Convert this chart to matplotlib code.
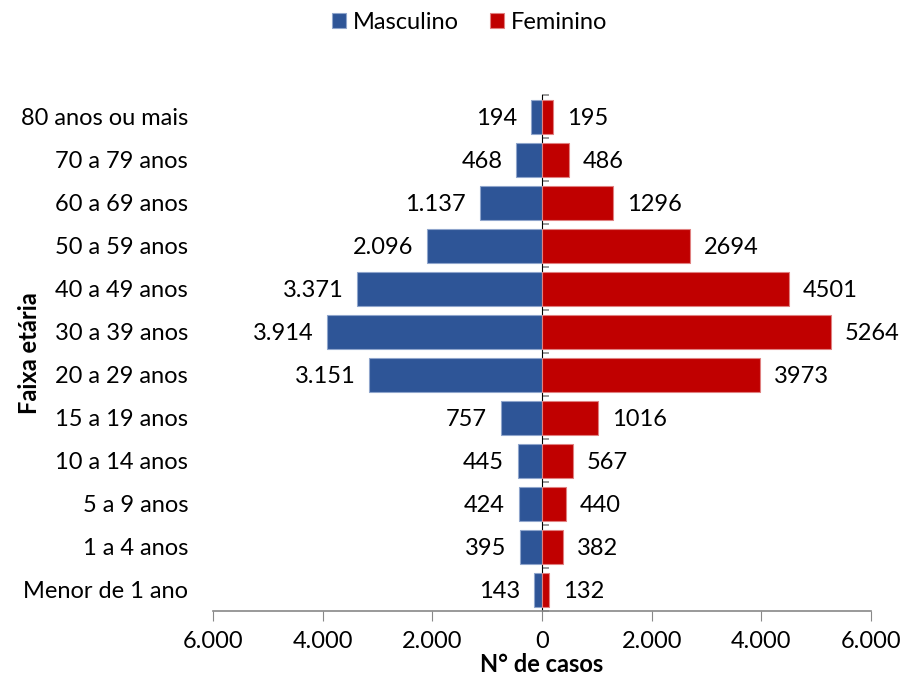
import numpy as np
import matplotlib
matplotlib.use('Agg')
import matplotlib.pyplot as plt

plt.rcParams['font.family'] = ['Lato', 'DejaVu Sans']

##data (top to bottom as in the chart)
faixas = ['80 anos ou mais', '70 a 79 anos', '60 a 69 anos', '50 a 59 anos',
          '40 a 49 anos', '30 a 39 anos', '20 a 29 anos', '15 a 19 anos',
          '10 a 14 anos', '5 a 9 anos', '1 a 4 anos', 'Menor de 1 ano']
masculino = [194, 468, 1137, 2096, 3371, 3914, 3151, 757, 445, 424, 395, 143]
feminino = [195, 486, 1296, 2694, 4501, 5264, 3973, 1016, 567, 440, 382, 132]
xticks = [-6000, -4000, -2000, 0, 2000, 4000, 6000]

azul = '#2E5597'
vermelho = '#C00000'
fs = 17

fig = plt.figure(figsize=(9.03, 6.8), dpi=100)
ax = fig.add_axes([0.236, 0.101, 0.7286, 0.7586])

y = np.arange(len(faixas))[::-1]
bm = ax.barh(y, -np.array(masculino), height=0.8, color=azul,
             edgecolor='#8FA5CC', linewidth=0.8, label='Masculino')
bf = ax.barh(y, feminino, height=0.8, color=vermelho,
             edgecolor='#E08080', linewidth=0.8, label='Feminino')

def fmt_pt(v):
    return f'{v:,}'.replace(',', '.')

for yi, v in zip(y, masculino):
    ax.annotate(fmt_pt(v), (-v, yi), xytext=(-10, -1), textcoords='offset points',
                ha='right', va='center', fontsize=fs)
for yi, v in zip(y, feminino):
    ax.annotate(str(v), (v, yi), xytext=(10, -1), textcoords='offset points',
                ha='left', va='center', fontsize=fs)

ax.set_xlim(-6000, 6000)
ax.set_ylim(-0.5, len(faixas) - 0.5)
ax.set_xticks(xticks)
ax.set_xticklabels([fmt_pt(abs(t)) for t in xticks], fontsize=fs)
ax.set_yticks(y)
ax.set_yticklabels(faixas, fontsize=fs)
ax.tick_params(axis='y', length=0, pad=18)
ax.tick_params(axis='x', length=7, color='#888888', direction='out', pad=7)

for s in ['top', 'right', 'left']:
    ax.spines[s].set_visible(False)
ax.spines['bottom'].set_color('#888888')
ax.spines['bottom'].set_linewidth(1.2)

##central axis with ticks
sec = ax.secondary_yaxis(0.5)
sec.set_yticks(np.arange(-0.5, len(faixas), 1.0))
sec.set_yticks(y, minor=True)
sec.set_yticklabels([])
sec.tick_params(which='both', length=5, color='#888888', width=1.2,
                labelleft=False)
sec.spines['left'].set_color('#888888')
sec.spines['left'].set_linewidth(1.5)

ax.set_xlabel('N° de casos', fontsize=fs, fontweight='bold')
ax.xaxis.set_label_coords(0.5, -0.08)
ax.set_ylabel('Faixa etária', fontsize=fs, fontweight='bold')
ax.yaxis.set_label_coords(-0.262, 0.5)

fig.legend(handles=[bm, bf], loc='center', bbox_to_anchor=(0.52, 0.967),
           ncol=2, frameon=False, fontsize=fs, handlelength=0.6,
           handleheight=0.6, handletextpad=0.3, columnspacing=1.3)

plt.savefig('out.png', dpi=100)
